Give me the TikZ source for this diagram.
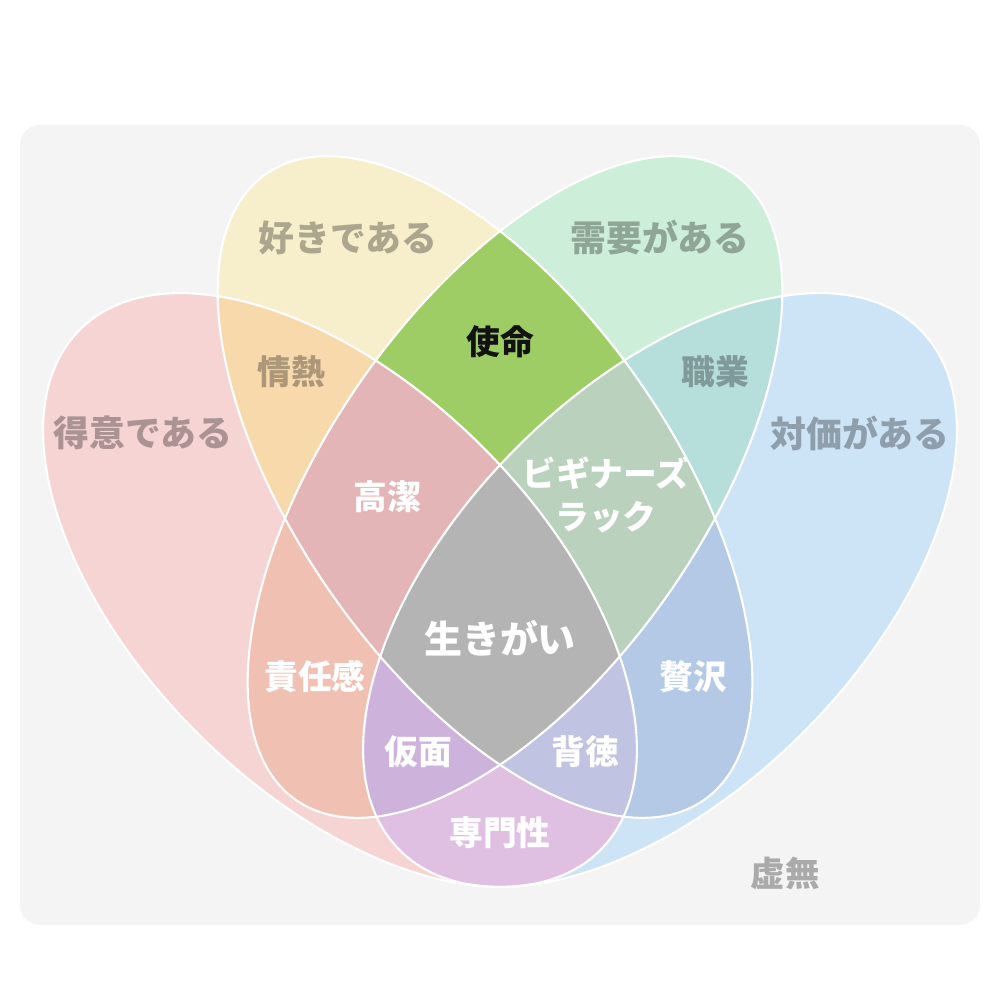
\documentclass[tikz,border=0pt]{standalone}
\usepackage[rgb]{xcolor}
\usepackage{fontspec}
\usepackage{tikz}
\newfontfamily\jp{Noto Sans CJK JP}

\definecolor{kyomu}{HTML}{F4F4F4}
\definecolor{tokui}{HTML}{F7D4D4}
\definecolor{suki}{HTML}{F7EFCC}
\definecolor{juyo}{HTML}{CDEED8}
\definecolor{taika}{HTML}{CDE3F6}
\definecolor{jonetsu}{HTML}{F7D9AC}
\definecolor{shimei}{HTML}{9ECD65}
\definecolor{shokugyo}{HTML}{B6DEDB}
\definecolor{sekinin}{HTML}{F0C0B3}
\definecolor{zeitaku}{HTML}{B3C9E5}
\definecolor{senmon}{HTML}{DFC0E2}
\definecolor{koketsu}{HTML}{E4B5B6}
\definecolor{beginner}{HTML}{BAD2BD}
\definecolor{kamen}{HTML}{CDB3DB}
\definecolor{haitoku}{HTML}{C0C3E2}
\definecolor{ikigai}{HTML}{B4B4B4}

% the four ellipses (pixel units, y pointing down)
\newcommand{\ellA}[1][]{\path[#1, rotate around={-45:(340,590)}] (340,590) ellipse [x radius=36.8mm, y radius=20.2mm];}
\newcommand{\ellB}[1][]{\path[#1, rotate around={-55:(485,487)}] (485,487) ellipse [x radius=38.2mm, y radius=18.7mm];}
\newcommand{\ellC}[1][]{\path[#1, rotate around={55:(515,487)}] (515,487) ellipse [x radius=38.2mm, y radius=18.7mm];}
\newcommand{\ellD}[1][]{\path[#1, rotate around={45:(660,590)}] (660,590) ellipse [x radius=36.8mm, y radius=20.2mm];}

\tikzset{
  outer/.style={font=\jp\bfseries\fontsize{10.2}{12}\selectfont, text=black, text opacity=0.3},
  inner/.style={font=\jp\bfseries\fontsize{9.6}{12.2}\selectfont, text=white, align=center},
}

\begin{document}
\begin{tikzpicture}[x=0.1mm, y=-0.1mm]

\useasboundingbox (0,0) rectangle (1000,1000);

% Background
\filldraw[fill=kyomu, draw=none, rounded corners=2mm] (20,125) rectangle (980,925);


% One set
\ellA[fill=tokui]
\ellB[fill=suki]
\ellC[fill=juyo]
\ellD[fill=taika]


% Two sets
\begin{scope} \ellA[clip] \ellB[fill=jonetsu] \end{scope}
\begin{scope} \ellA[clip] \ellC[fill=sekinin] \end{scope}
\begin{scope} \ellA[clip] \ellD[fill=senmon] \end{scope}
\begin{scope} \ellB[clip] \ellC[fill=shimei] \end{scope}
\begin{scope} \ellB[clip] \ellD[fill=zeitaku] \end{scope}
\begin{scope} \ellC[clip] \ellD[fill=shokugyo] \end{scope}


% Three sets
\begin{scope} \ellA[clip] \ellB[clip] \ellC[fill=koketsu] \end{scope}
\begin{scope} \ellA[clip] \ellB[clip] \ellD[fill=haitoku] \end{scope}
\begin{scope} \ellA[clip] \ellC[clip] \ellD[fill=kamen] \end{scope}
\begin{scope} \ellB[clip] \ellC[clip] \ellD[fill=beginner] \end{scope}


% All four
\begin{scope} \ellA[clip] \ellB[clip] \ellC[clip] \ellD[fill=ikigai] \end{scope}


% Outlines
\ellA[draw=white, line width=0.6pt]
\ellB[draw=white, line width=0.6pt]
\ellC[draw=white, line width=0.6pt]
\ellD[draw=white, line width=0.6pt]


% Labels
\path
(348,238) node [outer] (suki) {好きである}
(660,238) node [outer] (juyo) {需要がある}
(143,433) node [outer] (tokui) {得意である}
(860,433) node [outer] (taika) {対価がある};

\path
(291,372) node [outer, font=\jp\bfseries\fontsize{9.6}{12}\selectfont] (jonetsu) {情熱}
(715,372) node [outer, font=\jp\bfseries\fontsize{9.6}{12}\selectfont] (shokugyo) {職業}
(500,342) node [inner, text=black!93] (shimei) {使命};

\path
(387,497) node [inner] (koketsu) {高潔}
(606,495) node [inner] (beginner) {ビギナーズ\\ラック}
(500,638) node [inner, font=\jp\bfseries\fontsize{10.8}{13}\selectfont] (ikigai) {生きがい}
(315,677) node [inner] (sekinin) {責任感}
(693,677) node [inner] (zeitaku) {贅沢}
(418,752) node [inner] (kamen) {仮面}
(585,752) node [inner] (haitoku) {背徳}
(500,833) node [inner] (senmon) {専門性};

\path
(785,873) node [outer, font=\jp\bfseries\fontsize{9.8}{12}\selectfont] (kyomu) {虚無};

\end{tikzpicture}
\end{document}
